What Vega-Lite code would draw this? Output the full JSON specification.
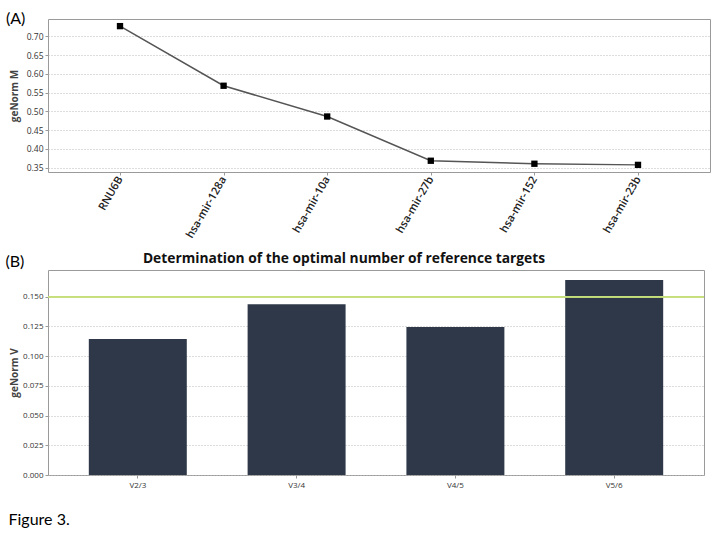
{
  "$schema": "https://vega.github.io/schema/vega-lite/v6.json",
  "padding": {"left": 5, "top": 10, "right": 5, "bottom": 5},
  "background": "white",
  "spacing": 10,
  "title": {"text": "Figure 3.", "orient": "bottom", "anchor": "start", "frame": "bounds", "font": "Lato", "fontSize": 16, "fontWeight": "normal", "color": "#000", "offset": 22, "dx": 3},
  "config": {
    "view": {"stroke": "#9a9a9a", "strokeWidth": 1},
    "axis": {"labelFont": "Open Sans", "titleFont": "Open Sans", "domain": false, "tickColor": "#999", "tickSize": 3, "labelColor": "#333", "titleColor": "#444", "labelOverlap": false}
  },
  "vconcat": [
    {
      "width": 662,
      "height": 153,
      "title": {"text": "(A)", "anchor": "start", "frame": "bounds", "font": "Lato", "fontSize": 16, "fontWeight": "normal", "color": "#000", "offset": 0, "dy": 8, "dx": -3},
      "data": {"values": [
        {"target": "RNU6B", "M": 0.727},
        {"target": "hsa-mir-128a", "M": 0.568},
        {"target": "hsa-mir-10a", "M": 0.486},
        {"target": "hsa-mir-27b", "M": 0.368},
        {"target": "hsa-mir-152", "M": 0.360},
        {"target": "hsa-mir-23b", "M": 0.357}
      ]},
      "encoding": {
        "x": {"field": "target", "type": "nominal", "sort": null,
          "scale": {"type": "point", "padding": 0.695},
          "axis": {"title": null, "labelAngle": -60, "labelFontSize": 11, "labelFontWeight": 600, "labelColor": "#222", "labelPadding": 2, "grid": false}},
        "y": {"field": "M", "type": "quantitative",
          "scale": {"domain": [0.338, 0.746], "nice": false, "zero": false},
          "axis": {"title": "geNorm M", "titleFontSize": 10, "titleFontWeight": "bold", "values": [0.35, 0.4, 0.45, 0.5, 0.55, 0.6, 0.65, 0.7], "format": ".2f", "labelFontSize": 8.5, "grid": true, "gridColor": "#bbb", "gridDash": [1, 2], "minExtent": 27, "maxExtent": 27, "titlePadding": 2}}
      },
      "layer": [
        {"mark": {"type": "line", "color": "#555", "strokeWidth": 1.5}},
        {"mark": {"type": "point", "shape": "square", "filled": true, "color": "#000", "size": 40, "opacity": 1}}
      ]
    },
    {
      "title": {"text": "(B)", "anchor": "start", "frame": "bounds", "font": "Lato", "fontSize": 16, "fontWeight": "normal", "color": "#000", "offset": 0, "dy": 18, "dx": -3},
      "vconcat": [
        {
          "width": 656,
          "height": 205,
          "title": {"text": "Determination of the optimal number of reference targets", "anchor": "middle", "frame": "group", "font": "Open Sans", "fontSize": 13.8, "fontWeight": "bold", "color": "#111", "offset": 4, "dx": -32},
          "data": {"values": [
            {"pair": "V2/3", "V": 0.1145},
            {"pair": "V3/4", "V": 0.1436},
            {"pair": "V4/5", "V": 0.1246},
            {"pair": "V5/6", "V": 0.164}
          ]},
          "layer": [
            {
              "mark": {"type": "bar", "color": "#2e3848"},
              "encoding": {
                "x": {"field": "pair", "type": "nominal", "sort": null,
                  "scale": {"paddingInner": 0.383, "paddingOuter": 0.257},
                  "axis": {"title": null, "labelAngle": 0, "labelFontSize": 8, "labelPadding": 3, "grid": false}},
                "y": {"field": "V", "type": "quantitative",
                  "scale": {"domain": [0, 0.1725], "nice": false},
                  "axis": {"title": "geNorm V", "titleFontSize": 10, "titleFontWeight": "bold", "values": [0, 0.025, 0.05, 0.075, 0.1, 0.125, 0.15], "format": ".3f", "labelFontSize": 8, "grid": true, "gridColor": "#bbb", "gridDash": [1, 2], "minExtent": 27, "maxExtent": 27, "titlePadding": 2}}
              }
            },
            {
              "mark": {"type": "rule", "color": "#c5e07a", "strokeWidth": 1.5},
              "encoding": {
                "y": {"datum": 0.15, "type": "quantitative",
                  "scale": {"domain": [0, 0.1725], "nice": false},
                  "axis": {"title": "geNorm V", "titleFontSize": 10, "titleFontWeight": "bold", "values": [0, 0.025, 0.05, 0.075, 0.1, 0.125, 0.15], "format": ".3f", "labelFontSize": 8, "grid": true, "gridColor": "#bbb", "gridDash": [1, 2], "minExtent": 27, "maxExtent": 27, "titlePadding": 2}}
              }
            }
          ]
        }
      ]
    }
  ]
}
